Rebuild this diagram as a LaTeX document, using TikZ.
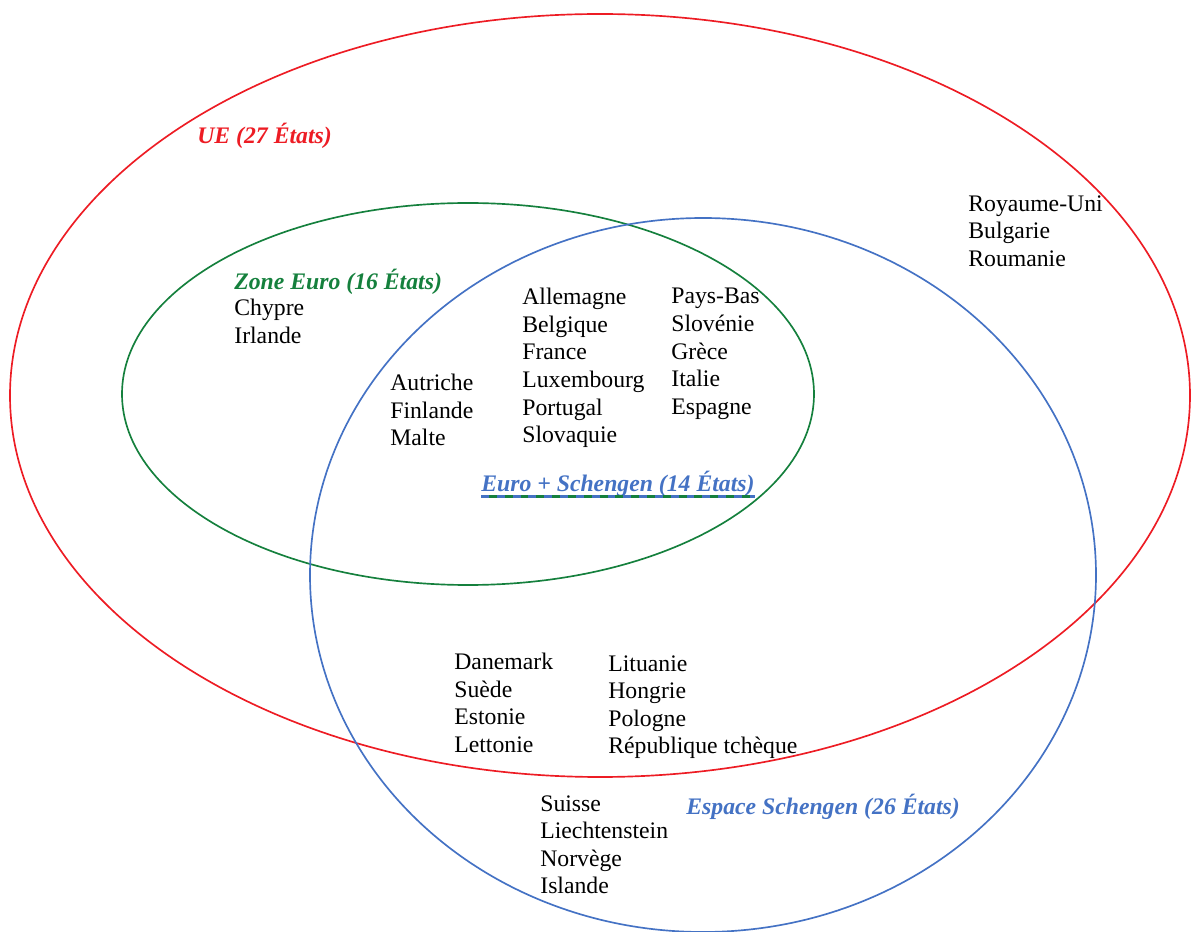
\documentclass[tikz,border=0pt]{standalone}
\usepackage{fontspec}
\setmainfont{Liberation Serif}
\definecolor{ueRed}{RGB}{237,28,36}
\definecolor{euroGreen}{RGB}{21,128,61}
\definecolor{schBlue}{RGB}{68,114,196}

\begin{document}
\begin{tikzpicture}[x=0.02cm,y=-0.02cm,
    ring/.style={line width=0.95pt},
    pays/.style={anchor=north west,inner sep=0pt,align=left,
        font=\fontsize{13.5}{15.7}\selectfont},
    titre/.style={anchor=base west,inner sep=0pt,
        font=\fontsize{13.5}{15.7}\selectfont\bfseries\itshape}]
        \useasboundingbox (0,0) rectangle (1191,932);
        \coordinate (UE) at (600,395.5);
        \coordinate (ZE) at (468,394);
        \coordinate (ES) at (703,575);
        \draw[ring,ueRed] (UE) ellipse [x radius=590, y radius=381.5];
        \draw[ring,euroGreen] (ZE) ellipse [x radius=346, y radius=191];
        \draw[ring,schBlue] (ES) ellipse [x radius=393, y radius=357];
        % titres
        \node[titre,ueRed] (ue27) at (197,144) {UE (27 États)};
        \node[titre,euroGreen] (ze16) at (234,290) {Zone Euro (16 États)};
        \node[titre,schBlue] (es14) at (481,492) {Euro + Schengen (14 États)};
        \node[titre,schBlue] (es26) at (686,814.5) {Espace Schengen (26 États)};
        \draw[schBlue,line width=1.4pt] ([yshift=-2.6pt]es14.base west) -- ([yshift=-2.6pt]es14.base east);
        \draw[euroGreen,line width=1.4pt,dash pattern=on 4.5pt off 4.5pt,dash phase=4.5pt]
            ([yshift=-2.6pt]es14.base west) -- ([yshift=-2.6pt]es14.base east);
        % pays
        \node[pays] (ueSeul) at (968,195) {Royaume-Uni\\Bulgarie\\Roumanie};
        \node[pays] (zeSeul) at (234,299) {Chypre\\Irlande};
        \node[pays] (both1) at (522,288) {Allemagne\\Belgique\\France\\Luxembourg\\Portugal\\Slovaquie};
        \node[pays] (both2) at (671,288) {Pays-Bas\\Slovénie\\Grèce\\Italie\\Espagne};
        \node[pays] (both3) at (390,374) {Autriche\\Finlande\\Malte};
        \node[pays] (schUE1) at (454,653) {Danemark\\Suède\\Estonie\\Lettonie};
        \node[pays] (schUE2) at (608,655) {Lituanie\\Hongrie\\Pologne\\République tchèque};
        \node[pays] (schSeul) at (540,795) {Suisse\\Liechtenstein\\Norvège\\Islande};
    \end{tikzpicture}
\end{document}
